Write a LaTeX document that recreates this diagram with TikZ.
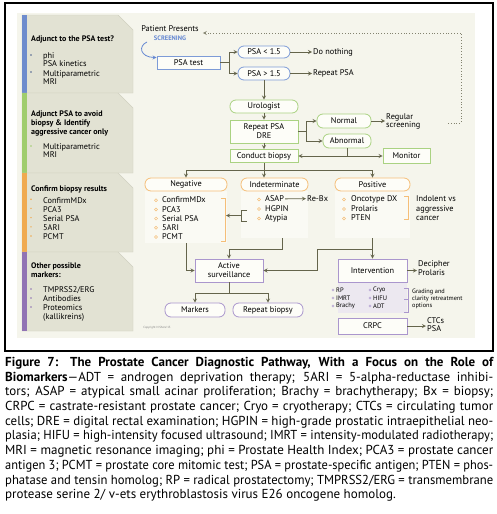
\documentclass[tikz,border=0pt]{standalone}
\usepackage{fontspec}
\setmainfont{PT Sans}
\usepackage{xcolor}
\usepackage{graphicx}
\usepackage{tikz}
\usetikzlibrary{arrows, positioning, calc}

\definecolor{frameBg}{RGB}{245,245,236}
\definecolor{panelBg}{RGB}{226,226,211}
\definecolor{panelEdge}{RGB}{208,208,192}
\definecolor{barBlue}{RGB}{110,140,205}
\definecolor{barGreen}{RGB}{160,205,110}
\definecolor{barOrange}{RGB}{240,170,80}
\definecolor{barPurple}{RGB}{145,115,180}
\definecolor{lineBlue}{RGB}{125,155,215}
\definecolor{lineGreen}{RGB}{170,210,130}
\definecolor{lineOrange}{RGB}{245,190,120}
\definecolor{linePurple}{RGB}{170,150,205}
\definecolor{linkCol}{RGB}{100,100,75}
\definecolor{boxFill}{RGB}{253,253,248}
\definecolor{listBg}{RGB}{250,250,244}
\definecolor{trtBg}{RGB}{236,232,240}
\definecolor{screenBlue}{RGB}{100,135,210}

% one justified caption line (squeezed if too long)
\newcommand{\capline}[1]{\sbox0{#1}\ifdim\wd0>488pt\resizebox{488pt}{\height}{#1}\else\makebox[488pt][s]{#1}\fi}

\begin{document}
\begin{tikzpicture}[
    x=1pt, y=-1pt,
    font=\fontsize{8.3}{9}\selectfont,
    >=stealth,
    link/.style={draw=linkCol, line width=0.8pt},
    arr/.style={link, ->},
    flowbox/.style={draw, line width=0.8pt, fill=boxFill, rectangle, inner sep=0pt, align=center},
    pill/.style={flowbox, rounded corners=6pt},
    lbl/.style={inner sep=1pt, anchor=west, align=left},
    head/.style={inner sep=0pt, anchor=west, align=left, font=\bfseries\fontsize{8}{9}\selectfont},
    item/.style={inner sep=0pt, anchor=west, align=left, font=\fontsize{8.3}{7.5}\selectfont},
    small/.style={inner sep=0pt, anchor=west, font=\fontsize{6.5}{7}\selectfont},
    brk/.style={line width=0.6pt}
]
\useasboundingbox (0,0) rectangle (497,514);
\fill[white] (0,0) rectangle (497,514);

% Frame
\draw[line width=1.2pt] (5,3) rectangle (493,351);
\fill[frameBg] (17,13) rectangle (475,338);

% Side panels
\foreach \ytop/\ybot/\barcol in {15/93/barBlue, 93/173/barGreen, 173/252/barOrange, 252/331/barPurple} {
  \filldraw[fill=panelBg, draw=panelEdge, line width=0.4pt] (22,\ytop) -- (118,\ytop) -- (133,\ytop+15) -- (133,\ybot) -- (22,\ybot) -- cycle;
  \fill[\barcol] (22,\ytop) rectangle (27,\ybot);
}
\node[head] (adjhead) at (31,39) {Adjunct to the PSA test?};
\fill[barBlue!70!black] (31,55) circle (0.8);
\node[item] (adjphi) at (43,59.5) {phi\\PSA kinetics};
\fill[barBlue!70!black] (31,72) circle (0.8);
\node[item] (adjmri) at (43,77.5) {Multiparametric\\MRI};

\node[head] (avoidhead) at (31,123) {Adjunct PSA to avoid\\biopsy \& Identify\\aggressive cancer only};
\fill[barGreen] (31,146) circle (0.8);
\node[item] (avoidmri) at (43,150.5) {Multiparametric\\MRI};

\node[head] (confhead) at (31,189) {Confirm biopsy results};
\foreach \nm/\txt [count=\i] in {mdx/ConfirmMDx, pca/PCA3, spsa/Serial PSA, ari/5ARI, pcmt/PCMT} {
  \fill[barOrange] (31,190+9.2*\i) circle (0.8);
  \node[item] (conf\nm) at (43,191+9.2*\i) {\txt};
}

\node[head, font=\bfseries\fontsize{8}{8.5}\selectfont] (otherhead) at (31,270) {Other possible\\markers:};
\fill[barPurple] (31,289) circle (0.8);
\node[item] (othertmp) at (43,290) {TMPRSS2/ERG};
\fill[barPurple] (31,298) circle (0.8);
\node[item] (otherab) at (43,299) {Antibodies};
\fill[barPurple] (31,307) circle (0.8);
\node[item, font=\fontsize{8.3}{9}\selectfont] (otherprot) at (43,312.5) {Proteomics\\(kallikreins)};

% Screening
\node[inner sep=1pt] (presents) at (170,29) {Patient Presents};
\node[inner sep=0pt, text=screenBlue, font=\bfseries\fontsize{6.5}{7}\selectfont] (screening) at (170,38) {SCREENING};
\node[flowbox, draw=lineBlue, minimum width=63pt, minimum height=13pt] (psatest) at (188.5,62.5) {PSA test};
\node[pill, draw=lineBlue, minimum width=52pt, minimum height=12pt] (low) at (264,52) {PSA < 1.5};
\node[pill, draw=lineBlue, minimum width=52pt, minimum height=13pt] (high) at (264,73.5) {PSA > 1.5};
\node[lbl] (nothing) at (312,52) {Do nothing};
\node[lbl] (reppsa) at (312,73.5) {Repeat PSA};

% Urologist
\node[pill, draw=lineGreen, minimum width=68pt, minimum height=13pt] (uro) at (264,106.5) {Urologist};
\node[flowbox, draw=lineGreen, minimum width=68pt, minimum height=23pt] (dre) at (264,131.5) {Repeat PSA\\DRE};
\node[pill, draw=lineGreen, minimum width=54pt, minimum height=14pt] (normal) at (344,121) {Normal};
\node[pill, draw=lineGreen, minimum width=48pt, minimum height=14pt] (abnormal) at (347,141) {Abnormal};
\node[lbl, font=\fontsize{8.3}{8.5}\selectfont] (regular) at (385,121.5) {Regular\\screening};
\node[flowbox, draw=lineGreen, minimum width=68pt, minimum height=13pt] (biopsy) at (264,156) {Conduct biopsy};
\node[flowbox, draw=lineGreen, minimum width=47pt, minimum height=15pt] (monitor) at (406.5,156) {Monitor};

% Biopsy results
\fill[listBg] (145,191) rectangle (227,243);
\fill[listBg] (241,191) rectangle (308,238);
\fill[listBg] (335,191) rectangle (410,238);
\node[pill, draw=lineOrange, minimum width=82pt, minimum height=13pt] (neg) at (186,184.5) {Negative};
\node[pill, draw=lineOrange, minimum width=67pt, minimum height=13pt] (indet) at (274.5,184.5) {Indeterminate};
\node[pill, draw=lineOrange, minimum width=75pt, minimum height=13pt] (pos) at (372.5,184.5) {Positive};

\foreach \nm/\txt [count=\i] in {mdx/ConfirmMDx, pca/PCA3, spsa/Serial PSA, ari/5ARI, pcmt/PCMT} {
  \draw[lineOrange, line width=0.5pt] (156,191+9.2*\i) circle (1.5);
  \node[lbl] (neg\nm) at (161,190.8+9.2*\i) {\txt};
}
\foreach \nm/\txt [count=\i] in {asap/ASAP, hgpin/HGPIN, atyp/Atypia} {
  \draw[lineOrange, line width=0.5pt] (259,190+9.5*\i) circle (1.5);
  \node[lbl] (ind\nm) at (264,189.5+9.5*\i) {\txt};
}
\foreach \nm/\txt [count=\i] in {onco/Oncotype DX, prol/Prolaris, pten/PTEN} {
  \draw[lineOrange, line width=0.5pt] (344,190+9.5*\i) circle (1.5);
  \node[lbl] (pos\nm) at (350,189.5+9.5*\i) {\txt};
}
\node[lbl] (rebx) at (306,198.5) {Re-Bx};
\node[lbl, font=\fontsize{8.3}{9.5}\selectfont] (indolent) at (415,208.5) {Indolent vs\\aggressive\\cancer};

% Brackets
\draw[lineOrange, brk] (221,198) -| (225,241) -- (221,241);
\draw[lineOrange, brk] (404,196) -| (408,219) -- (404,219);
\draw[linkCol, brk] (247,210) -- (241,210) -- (241,221) -- (247,221);
\coordinate (indbr) at (241,215.5);
\coordinate (negbr) at (226,215.5);

% Treatment
\node[flowbox, draw=linePurple, minimum width=68pt, minimum height=23pt] (active) at (229,270.5) {Active\\surveillance};
\node[flowbox, draw=linePurple, minimum width=69pt, minimum height=23pt] (interv) at (372.5,270.5) {Intervention};
\node[lbl] (decipher) at (417,268) {Decipher\\Prolaris};
\fill[trtBg] (338,283) rectangle (407,313);
\foreach \nm/\txt [count=\i] in {rp/RP, imrt/IMRT, brachy/Brachy} {
  \draw[linePurple, line width=0.4pt] (333,282+8*\i) circle (1.2);
  \node[small] (trt\nm) at (336,282+8*\i) {\txt};
}
\foreach \nm/\txt [count=\i] in {cryo/Cryo, hifu/HIFU, adt/ADT} {
  \draw[linePurple, line width=0.4pt] (370,282+8*\i) circle (1.2);
  \node[small] (trt\nm) at (373,282+8*\i) {\txt};
}
\draw[linePurple, brk] (404,288) -| (408,312) -- (404,312);
\draw[linePurple, brk] (404,299) -- (408,299);
\node[lbl, font=\fontsize{6.3}{7}\selectfont] (grading) at (411,299) {Grading and\\clarity retreatment\\options};
\node[flowbox, draw=linePurple, minimum width=69pt, minimum height=16pt] (crpc) at (372.5,326) {CRPC};
\node[lbl, font=\fontsize{8.3}{8}\selectfont] (ctcs) at (426,325) {CTCs\\PSA};

\node[pill, draw=linePurple, minimum width=60pt, minimum height=14pt] (markers) at (195,310) {Markers};
\node[pill, draw=linePurple, minimum width=70pt, minimum height=14pt] (rbiopsy) at (268,310) {Repeat biopsy};
\node[inner sep=0pt, text=gray, font=\fontsize{3}{3}\selectfont] (copyr) at (157,328) {Copyright N Shore'13};

% Links
\coordinate (scr) at (147,42);
\draw[screenBlue, line width=0.8pt, ->] (scr) .. controls (138,46) and (140,57) .. ([yshift=-2pt]psatest.north west);
\draw[arr] (psatest.east) -- ++(9,0) coordinate (psasplit) |- (low);
\draw[arr] (psasplit) |- (high);
\draw[arr] (low) -- (nothing);
\draw[arr] (high) -- (reppsa);
\draw[arr] (high) -- (uro);
\draw[arr] (uro) -- (dre);
\draw[arr] (dre.east) -- ++(8,0) coordinate (dresplit) |- (normal);
\draw[arr] (dresplit) |- (abnormal);
\draw[arr] (normal) -- (regular.west |- normal);
\coordinate (fb) at (448,123);
\draw[linkCol!80, dotted, line width=0.8pt, ->] (fb) -- ++(13,0) |- ([yshift=-4pt, xshift=3pt]presents.east);
\draw[arr] (dre) -- (biopsy);
\coordinate (abnjoin) at (abnormal |- biopsy);
\draw[link] (abnormal) -- (abnjoin);
\draw[arr] (abnjoin) -- (biopsy);
\draw[arr] (abnjoin) -- (monitor);

\coordinate (bxsplit) at ([yshift=-7pt]biopsy.south);
\draw[link] (biopsy) -- (bxsplit);
\draw[arr] (bxsplit) -| (neg);
\draw[arr] (bxsplit) -- (bxsplit |- indet.north);
\draw[arr] (bxsplit) -| (pos);
\draw[arr] (indasap) -- (rebx);
\draw[arr] (indbr) -- (negbr);

\coordinate (negend) at (186,243);
\draw[arr] (negend) |- (active);
\coordinate (indend) at (282,238);
\draw[arr] (indend) -- ++(0,11) -| (active);
\coordinate (posend) at (372.5,238);
\draw[arr] (posend) -- (interv);
\draw[arr] (posend) ++(0,11) -- ++(-55.5,0) |- (active);
\coordinate (assplit) at ([yshift=-11pt]active.south);
\draw[link] (active) -- (assplit);
\draw[arr] (assplit) -| (markers);
\draw[arr] (assplit) -| (rbiopsy);
\draw[arr] (interv) -- (decipher.west |- interv);
\draw[arr] (crpc) -- (ctcs.west |- crpc);

% Caption
\node[anchor=north west, inner sep=0pt, align=left, font=\fontsize{13}{14.7}\selectfont] (caption) at (5,357) {%
\capline{\bfseries Figure 7: The Prostate Cancer Diagnostic Pathway, With a Focus on the Role of}\\
\capline{\textbf{Biomarkers}—ADT = androgen deprivation therapy; 5ARI = 5-alpha-reductase inhibi-}\\
\capline{tors; ASAP = atypical small acinar proliferation; Brachy = brachytherapy; Bx = biopsy;}\\
\capline{CRPC = castrate-resistant prostate cancer; Cryo = cryotherapy; CTCs = circulating tumor}\\
\capline{cells; DRE = digital rectal examination; HGPIN = high-grade prostatic intraepithelial neo-}\\
\capline{plasia; HIFU = high-intensity focused ultrasound; IMRT = intensity-modulated radiotherapy;}\\
\capline{MRI = magnetic resonance imaging; phi = Prostate Health Index; PCA3 = prostate cancer}\\
\capline{antigen 3; PCMT = prostate core mitomic test; PSA = prostate-specific antigen; PTEN = phos-}\\
\capline{phatase and tensin homolog; RP = radical prostatectomy; TMPRSS2/ERG = transmembrane}\\
protease serine 2/ v-ets erythroblastosis virus E26 oncogene homolog.};

\end{tikzpicture}
\end{document}
